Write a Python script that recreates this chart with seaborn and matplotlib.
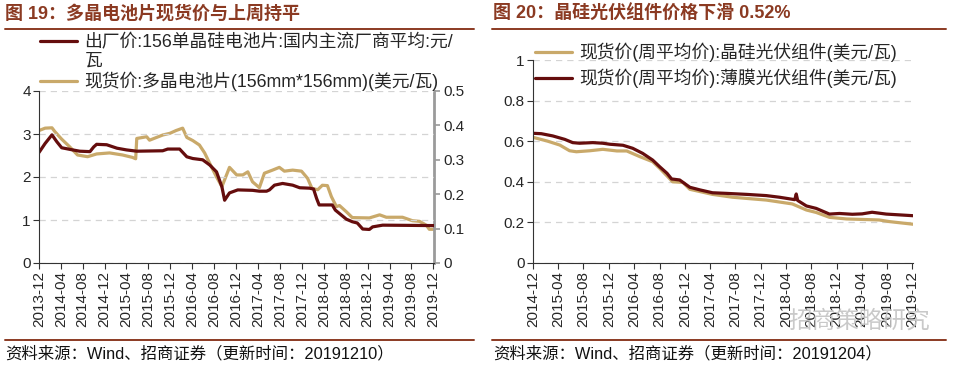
import matplotlib
matplotlib.use("Agg")
import matplotlib.pyplot as plt
from matplotlib.lines import Line2D
import pandas as pd
import seaborn as sns

sns.set_style("ticks")
plt.rcParams['font.family'] = ['Liberation Sans', 'Noto Sans CJK SC', 'DejaVu Sans']
plt.rcParams['axes.unicode_minus'] = False

DARK = "#650D0D"
GOLD = "#C9A96A"
BROWN = "#8B3A22"

# ---------------- Figure 19 data ----------------
ex_dates = ["2013-12-01", "2014-01-04", "2014-02-11", "2014-03-10", "2014-04-06", "2014-06-06",
            "2014-07-15", "2014-09-10", "2014-10-01", "2014-10-17", "2014-12-12", "2015-02-07",
            "2015-04-01", "2015-05-28", "2015-10-19", "2015-11-16", "2016-01-21", "2016-03-01",
            "2016-04-03", "2016-05-28", "2016-07-06", "2016-08-13", "2016-09-12", "2016-09-27",
            "2016-10-24", "2016-12-09", "2017-03-01", "2017-04-08", "2017-05-18", "2017-06-03",
            "2017-07-01", "2017-08-15", "2017-10-10", "2017-11-18", "2018-01-12", "2018-02-03",
            "2018-02-20", "2018-03-06", "2018-05-18", "2018-06-04", "2018-08-04", "2018-09-06",
            "2018-10-04", "2018-11-03", "2018-12-10", "2018-12-28", "2019-02-22", "2019-12-04"]
ex_vals = [2.57, 2.78, 2.98, 2.82, 2.68, 2.63,
           2.60, 2.59, 2.70, 2.76, 2.75, 2.67,
           2.63, 2.60, 2.61, 2.65, 2.65, 2.47,
           2.43, 2.40, 2.28, 2.12, 1.77, 1.46,
           1.63, 1.70, 1.69, 1.67, 1.67, 1.70,
           1.81, 1.85, 1.81, 1.75, 1.74, 1.72,
           1.50, 1.35, 1.35, 1.23, 1.02, 0.96,
           0.93, 0.79, 0.78, 0.84, 0.88, 0.87]

spot_dates = ["2013-12-01", "2014-01-04", "2014-02-11", "2014-02-27", "2014-04-06", "2014-05-20",
              "2014-07-03", "2014-08-28", "2014-10-17", "2014-12-28", "2015-03-10", "2015-05-04",
              "2015-05-22", "2015-05-28", "2015-07-22", "2015-08-07", "2015-10-19", "2015-11-28",
              "2016-01-01", "2016-02-07", "2016-03-01", "2016-04-03", "2016-05-10", "2016-06-08",
              "2016-07-06", "2016-08-13", "2016-09-12", "2016-10-24", "2016-12-03", "2017-01-06",
              "2017-02-03", "2017-03-01", "2017-04-08", "2017-05-06", "2017-06-20", "2017-07-28",
              "2017-08-25", "2017-10-10", "2017-11-28", "2018-01-01", "2018-01-25", "2018-02-26",
              "2018-03-24", "2018-04-21", "2018-05-13", "2018-06-10", "2018-06-27", "2018-08-04",
              "2018-09-06", "2018-12-10", "2019-02-05", "2019-03-14", "2019-06-12", "2019-08-06",
              "2019-09-15", "2019-10-22", "2019-11-08", "2019-12-04"]
spot_vals = [0.385, 0.392, 0.393, 0.382, 0.360, 0.338,
             0.314, 0.309, 0.317, 0.320, 0.314, 0.307,
             0.303, 0.362, 0.367, 0.357, 0.372, 0.377,
             0.385, 0.392, 0.365, 0.356, 0.343, 0.320,
             0.290, 0.250, 0.222, 0.278, 0.256, 0.256,
             0.265, 0.236, 0.219, 0.261, 0.270, 0.278,
             0.267, 0.270, 0.267, 0.246, 0.217, 0.213,
             0.226, 0.225, 0.193, 0.164, 0.167, 0.149,
             0.132, 0.131, 0.140, 0.133, 0.133, 0.123,
             0.121, 0.110, 0.098, 0.098]

left_ticks = ["2013-12", "2014-04", "2014-08", "2014-12", "2015-04", "2015-08", "2015-12",
              "2016-04", "2016-08", "2016-12", "2017-04", "2017-08", "2017-12", "2018-04",
              "2018-08", "2018-12", "2019-04", "2019-08", "2019-12"]
left_y = [0, 1, 2, 3, 4]
right_y = [0, 0.1, 0.2, 0.3, 0.4, 0.5]
right_y_labels = ["0", "0.1", "0.2", "0.3", "0.4", "0.5"]

# ---------------- Figure 20 data ----------------
csi_dates = ["2014-12-01", "2015-02-07", "2015-04-09", "2015-05-26", "2015-06-28", "2015-09-01",
             "2015-11-02", "2016-01-09", "2016-02-25", "2016-04-28", "2016-06-29", "2016-08-02",
             "2016-09-06", "2016-10-03", "2016-11-21", "2016-12-25", "2017-04-13", "2017-07-18",
             "2017-12-28", "2018-05-02", "2018-07-09", "2018-08-25", "2018-10-28", "2019-01-18",
             "2019-06-24", "2019-08-12", "2019-12-04"]
csi_vals = [0.619, 0.601, 0.581, 0.553, 0.548, 0.553,
            0.560, 0.552, 0.552, 0.524, 0.499, 0.466,
            0.429, 0.400, 0.397, 0.363, 0.338, 0.324,
            0.310, 0.291, 0.261, 0.249, 0.225, 0.217,
            0.212, 0.204, 0.191]

film_dates = ["2014-12-01", "2015-01-10", "2015-03-06", "2015-05-03", "2015-06-10", "2015-07-13",
              "2015-09-15", "2015-11-02", "2015-12-06", "2016-02-07", "2016-03-25", "2016-05-12",
              "2016-06-29", "2016-08-02", "2016-09-06", "2016-09-28", "2016-11-06", "2016-12-25",
              "2017-02-12", "2017-04-13", "2017-06-19", "2017-09-25", "2017-12-28", "2018-03-01",
              "2018-05-02", "2018-05-14", "2018-05-21", "2018-05-28", "2018-07-09", "2018-08-25",
              "2018-10-28", "2018-12-15", "2019-02-15", "2019-04-03", "2019-05-21", "2019-07-28",
              "2019-12-04"]
film_vals = [0.639, 0.637, 0.626, 0.609, 0.593, 0.590,
             0.593, 0.590, 0.585, 0.580, 0.565, 0.540,
             0.507, 0.474, 0.442, 0.414, 0.409, 0.373,
             0.360, 0.346, 0.343, 0.338, 0.332, 0.324,
             0.314, 0.312, 0.340, 0.308, 0.281, 0.269,
             0.241, 0.244, 0.240, 0.242, 0.250, 0.241,
             0.233]

r_ticks = ["2014-12", "2015-04", "2015-08", "2015-12", "2016-04", "2016-08", "2016-12",
           "2017-04", "2017-08", "2017-12", "2018-04", "2018-08", "2018-12", "2019-04",
           "2019-08", "2019-12"]
r_y = [0, 0.2, 0.4, 0.6, 0.8, 1]
r_y_labels = ["0", "0.2", "0.4", "0.6", "0.8", "1"]

label_ex = "出厂价:156单晶硅电池片:国内主流厂商平均:元/"
label_ex2 = "瓦"
label_spot = "现货价:多晶电池片(156mm*156mm)(美元/瓦)"
label_csi = "现货价(周平均价):晶硅光伏组件(美元/瓦)"
label_film = "现货价(周平均价):薄膜光伏组件(美元/瓦)"

title_l = "图 19：多晶电池片现货价与上周持平"
title_r = "图 20：晶硅光伏组件价格下滑 0.52%"
src_l = "资料来源：Wind、招商证券（更新时间：20191210）"
src_r = "资料来源：Wind、招商证券（更新时间：20191204）"

df_ex = pd.DataFrame({"date": pd.to_datetime(ex_dates), "v": ex_vals})
df_spot = pd.DataFrame({"date": pd.to_datetime(spot_dates), "v": spot_vals})
df_csi = pd.DataFrame({"date": pd.to_datetime(csi_dates), "v": csi_vals})
df_film = pd.DataFrame({"date": pd.to_datetime(film_dates), "v": film_vals})

W, H = 962, 368
fig = plt.figure(figsize=(W / 100, H / 100), dpi=100)

def fx(px):
    return px / W

def fy(py):
    return 1 - py / H

LW = 2.3
TFS = 11
LFS = 12.8
grid_kw = dict(color="#d4d4d4", linestyle=(0, (5, 4)), linewidth=0.9)

# ---------- left panel ----------
axL = fig.add_axes([fx(39), fy(263), fx(434) - fx(39), fy(91) - fy(263)])
axL2 = axL.twinx()
sns.lineplot(data=df_ex, x="date", y="v", ax=axL, color=DARK, linewidth=LW)
sns.lineplot(data=df_spot, x="date", y="v", ax=axL2, color=GOLD, linewidth=LW)
axL.set_zorder(axL2.get_zorder() + 1)
axL.patch.set_visible(False)

axL.set_ylim(0, 4)
axL.set_yticks(left_y)
axL.set_yticklabels([str(v) for v in left_y], fontsize=TFS)
axL2.set_ylim(0, 0.5)
axL2.set_yticks(right_y)
axL2.set_yticklabels(right_y_labels, fontsize=TFS)
lt = pd.to_datetime(left_ticks)
axL.set_xlim(pd.Timestamp("2013-12-01"), pd.Timestamp("2019-12-04"))
axL.set_xticks(lt)
axL.set_xticklabels(left_ticks, rotation=90, fontsize=TFS)
for a in (axL, axL2):
    a.set_xlabel("")
    a.set_ylabel("")
axL.yaxis.grid(True, **grid_kw)
axL.set_axisbelow(True)
axL.spines["top"].set_visible(False)
axL2.spines["top"].set_visible(False)
axL.spines["right"].set_visible(False)
axL2.spines["left"].set_visible(False)
axL2.spines["bottom"].set_visible(False)
axL2.spines["right"].set_color("#9a9a9a")
axL2.spines["right"].set_linewidth(2)
axL.spines["left"].set_color("#333333")
axL.spines["bottom"].set_color("#333333")
axL.tick_params(axis="both", length=4, width=0.8, color="#333333", pad=2)
axL2.tick_params(axis="y", length=4, width=1.2, color="#9a9a9a", pad=3)

hl = [Line2D([], [], color=DARK, lw=LW), Line2D([], [], color="none"), Line2D([], [], color=GOLD, lw=LW)]
fig.legend(hl, [label_ex, label_ex2, label_spot], loc="upper left",
           bbox_to_anchor=(fx(40), fy(34)), frameon=False, fontsize=LFS,
           handlelength=2.1, handletextpad=0.4, labelspacing=0.1,
           borderpad=0, borderaxespad=0)

# ---------- right panel ----------
axR = fig.add_axes([fx(533), fy(263), fx(913) - fx(533), fy(60) - fy(263)])
sns.lineplot(data=df_csi, x="date", y="v", ax=axR, color=GOLD, linewidth=LW)
sns.lineplot(data=df_film, x="date", y="v", ax=axR, color=DARK, linewidth=LW)
axR.set_ylim(0, 1)
axR.set_yticks(r_y)
axR.set_yticklabels(r_y_labels, fontsize=TFS)
rt = pd.to_datetime(r_ticks)
axR.set_xlim(pd.Timestamp("2014-12-01"), pd.Timestamp("2019-12-04"))
axR.set_xticks(rt)
axR.set_xticklabels(r_ticks, rotation=90, fontsize=TFS)
axR.set_xlabel("")
axR.set_ylabel("")
axR.yaxis.grid(True, **grid_kw)
axR.set_axisbelow(True)
axR.spines["top"].set_visible(False)
axR.spines["right"].set_visible(False)
axR.spines["left"].set_color("#333333")
axR.spines["bottom"].set_color("#333333")
axR.tick_params(axis="both", length=4, width=0.8, color="#333333", pad=2)

hr = [Line2D([], [], color=GOLD, lw=LW), Line2D([], [], color=DARK, lw=LW)]
fig.legend(hr, [label_csi, label_film], loc="upper left",
           bbox_to_anchor=(fx(535), fy(43)), frameon=False, fontsize=LFS,
           handlelength=2.1, handletextpad=0.4, labelspacing=0.35,
           borderpad=0, borderaxespad=0)

# ---------- titles, rules, sources ----------
fig.text(fx(5), fy(14), title_l, fontsize=13, fontweight="bold", color=BROWN, va="center", ha="left")
fig.text(fx(493), fy(14), title_r, fontsize=13, fontweight="bold", color=BROWN, va="center", ha="left")
for x0, x1 in ((5, 474), (492, 946)):
    for yy in (29, 340):
        fig.add_artist(Line2D([fx(x0), fx(x1)], [fy(yy), fy(yy)], color=BROWN, lw=1.4,
                              transform=fig.transFigure))
fig.text(fx(5), fy(354), src_l, fontsize=11.8, color="#111111", va="center", ha="left")
fig.text(fx(493), fy(354), src_r, fontsize=11.8, color="#111111", va="center", ha="left")

# watermark
fig.text(fx(930), fy(321), "招商策略研究", fontsize=17, color="#c4c4c4", alpha=0.9,
         va="center", ha="right")

fig.savefig("out.png", dpi=100)
